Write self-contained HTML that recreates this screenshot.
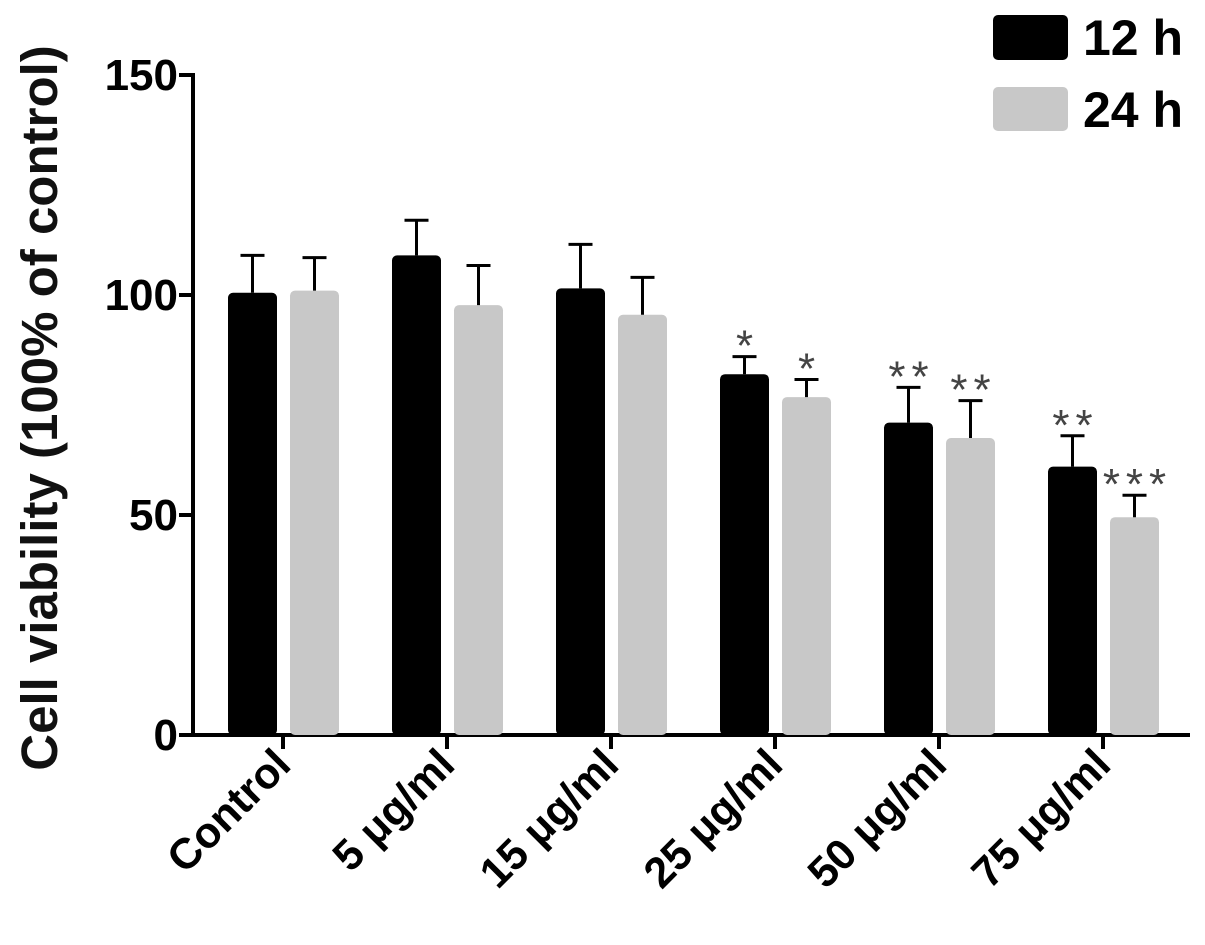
<!DOCTYPE html>
<html><head><meta charset="utf-8"><style>
body{margin:0;background:#fff;}
svg{display:block;font-family:"Liberation Sans",Arial,sans-serif;}
</style></head><body>
<svg id="chart" width="1205" height="945">
<g id="axes"></g>
<g id="bars"></g>
<text transform="translate(57,408) rotate(-90)" text-anchor="middle" font-size="51" font-weight="bold" fill="#111">Cell viability (100% of control)</text>
<g>
<rect x="993" y="15" width="75" height="45" rx="5" fill="#000"/>
<text x="1083" y="55" font-size="50" font-weight="bold">12 h</text>
<rect x="993" y="87" width="75" height="44" rx="5" fill="#c8c8c8"/>
<text x="1083" y="127" font-size="50" font-weight="bold">24 h</text>
</g>
</svg>
<script>
const categories=["Control","5 μg/ml","15 μg/ml","25 μg/ml","50 μg/ml","75 μg/ml"];
const values12=[100.5,109,101.5,82,71,61];
const err12=[8.5,8,10,4,8,7];
const values24=[101,97.7,95.5,76.8,67.5,49.5];
const err24=[7.5,9,8.5,4,8.5,5];
const stars12=["","","","*","**","**"];
const stars24=["","","","*","**","***"];
const yTicks=[0,50,100,150];
const NS="http://www.w3.org/2000/svg";
const y0=735,pxPer=4.4,x0=193,groupStart=283,groupStep=164;
const y=v=>y0-v*pxPer;
const gx=i=>groupStart+i*groupStep;
function mk(tag,attrs,parent){const e=document.createElementNS(NS,tag);for(const k in attrs)e.setAttribute(k,attrs[k]);parent.appendChild(e);return e;}
const axes=document.getElementById('axes'),bars=document.getElementById('bars');
let l=mk('line',{x1:x0,y1:y(150)-2,x2:x0,y2:y0+2,stroke:'#000','stroke-width':4},axes);


l=mk('line',{x1:x0-2,y1:y0,x2:1190,y2:y0,stroke:'#000','stroke-width':4},axes);


yTicks.forEach(t=>{
 const tk=mk('line',{x1:x0-14,y1:y(t),x2:x0,y2:y(t),stroke:'#000','stroke-width':4},axes);
 
 
 const tx=mk('text',{x:x0-15,y:y(t)+15,'text-anchor':'end','font-size':44,'font-weight':'bold'},axes);
 tx.textContent=t;
 
 
});
categories.forEach((c,i)=>{
 const cx=gx(i);
 const tk=mk('line',{x1:cx,y1:y0,x2:cx,y2:y0+14,stroke:'#000','stroke-width':4},axes);
 
 
 const tx=mk('text',{transform:`translate(${cx+10},${y0+32}) rotate(-45)`,'text-anchor':'end','font-size':43,'font-weight':'bold'},axes);
 tx.textContent=c;
 
 
 [[values12,err12,stars12,-55,'#000','#444','bar-12h'],[values24,err24,stars24,7,'#c8c8c8','#444','bar-24h']].forEach(([vals,errs,st,off,col,sc,nm])=>{
  const bx=cx+off,w=49,v=vals[i],top=y(v);
  const r=mk('rect',{x:bx,y:top,width:w,height:y0-top,rx:5,fill:col},bars);
  
  
  const m=bx+w/2,et=y(v+errs[i]);
  const e=mk('path',{d:`M${m},${top} V${et} M${m-12},${et} H${m+12}`,stroke:'#000','stroke-width':3,fill:'none'},bars);
  
  
  if(st[i]){
   const s=mk('text',{x:m+3,y:et+4,'text-anchor':'middle','font-size':44,fill:sc,'letter-spacing':'6'},bars);
   s.textContent=st[i];
   
   
  }
 });
});
</script>
</body></html>
